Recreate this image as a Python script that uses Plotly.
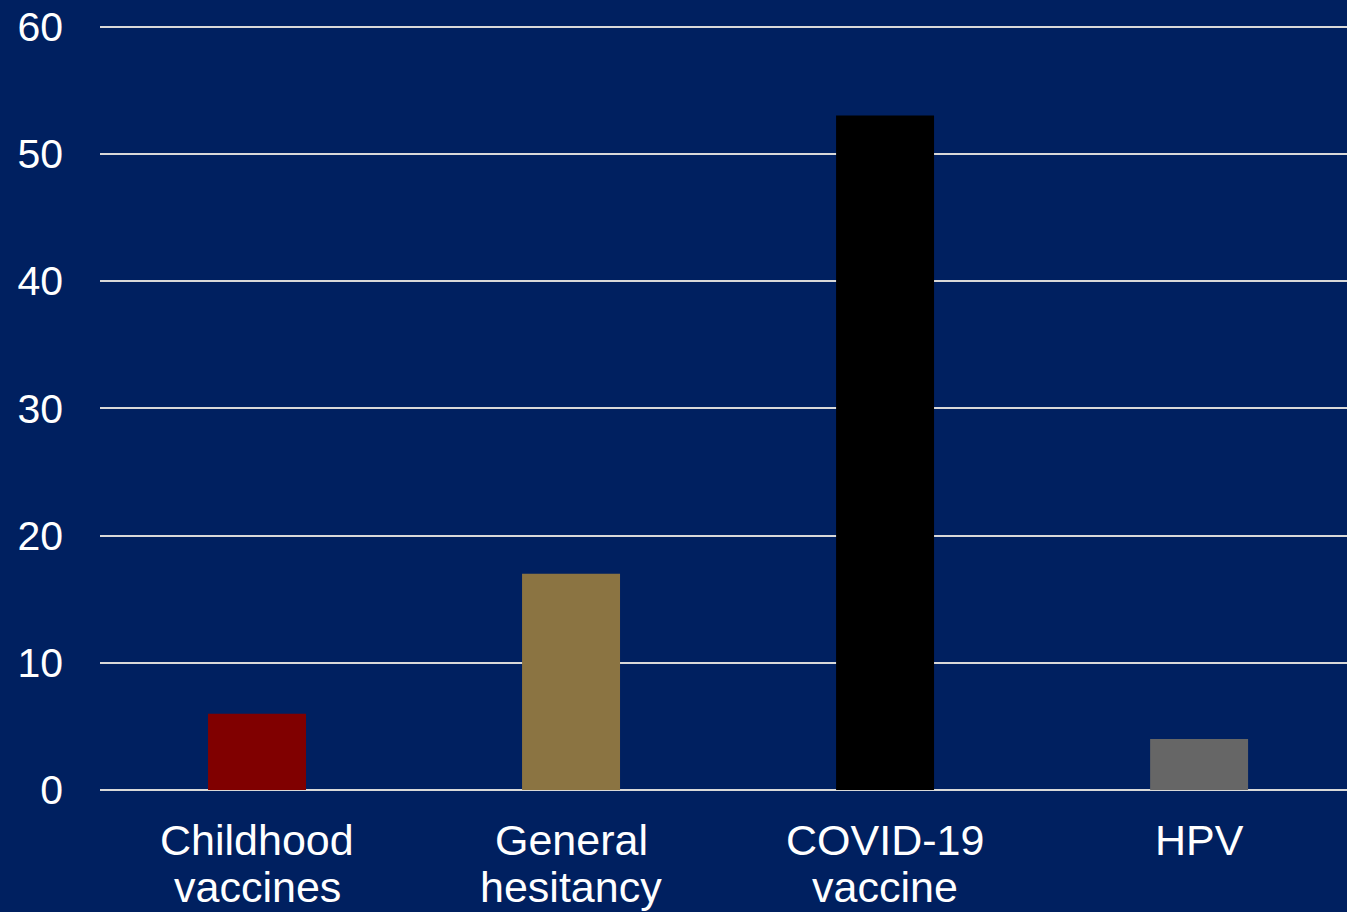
import plotly.graph_objects as go

# Survey categories and their values
categories = ["Childhood vaccines", "General hesitancy", "COVID-19 vaccine", "HPV"]
label_lines = [["Childhood", "vaccines"], ["General", "hesitancy"], ["COVID-19", "vaccine"], ["HPV"]]
values = [6, 17, 53, 4]
bar_colors = ["#800000", "#8B7442", "#000000", "#666666"]

y_ticks = [0, 10, 20, 30, 40, 50, 60]

BG = "#002060"
FONT = "Liberation Sans, Arial, sans-serif"
FONT_SIZE = 41
LABEL_SIZE = 43

x_pos = list(range(len(categories)))

fig = go.Figure(
    go.Bar(
        x=x_pos,
        y=values,
        customdata=categories,
        marker=dict(color=bar_colors, line=dict(width=0)),
        width=0.312,
        hovertemplate="%{customdata}: %{y}<extra></extra>",
    )
)

# Two-line category labels under the axis
for i, lines in enumerate(label_lines):
    for j, line in enumerate(lines):
        fig.add_annotation(
            x=x_pos[i],
            xref="x",
            y=0,
            yref="paper",
            yanchor="middle",
            yshift=-50 - 47 * j,
            text=line,
            showarrow=False,
            font=dict(family=FONT, size=LABEL_SIZE, color="#FFFFFF"),
        )

fig.update_layout(
    width=1347,
    height=912,
    margin=dict(l=100, r=0, t=24, b=122),
    paper_bgcolor=BG,
    plot_bgcolor=BG,
    font=dict(family=FONT, size=FONT_SIZE, color="#FFFFFF"),
    showlegend=False,
)

fig.update_xaxes(
    range=[-0.5, 3.471],
    showticklabels=False,
    showgrid=False,
    showline=False,
    zeroline=False,
    ticks="",
)

fig.update_yaxes(
    range=[0, 60.2],
    tickmode="array",
    tickvals=y_ticks,
    showgrid=True,
    gridcolor="#D9D9D9",
    gridwidth=2,
    zeroline=True,
    zerolinecolor="#D9D9D9",
    zerolinewidth=2,
    showline=False,
    ticks="",
    ticklabelstandoff=36,
    tickfont=dict(size=FONT_SIZE, color="#FFFFFF"),
)

fig.write_html("out.html")
